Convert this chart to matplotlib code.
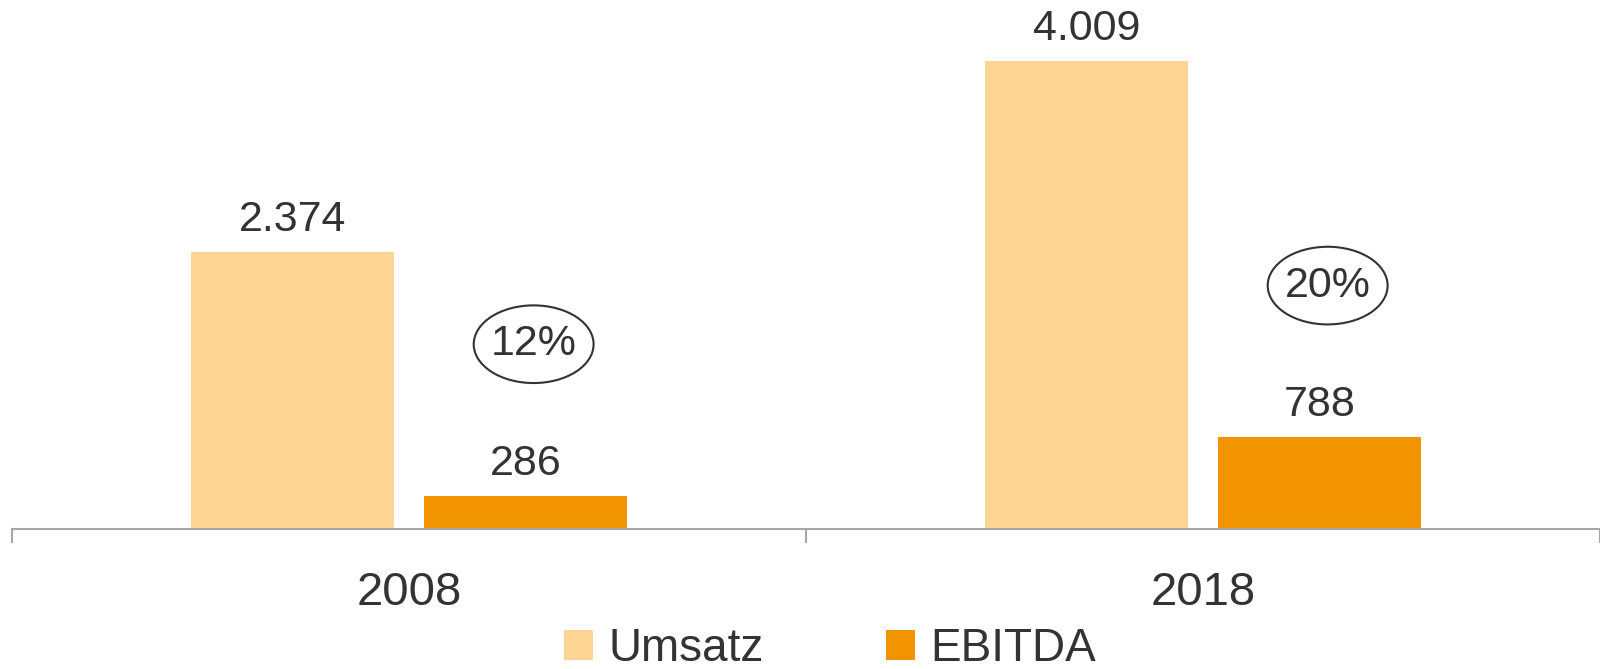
import matplotlib
matplotlib.use('Agg')
import matplotlib.pyplot as plt
import numpy as np
from matplotlib.patches import Ellipse
from matplotlib.transforms import offset_copy

# Data
years = ['2008', '2018']
series_labels = ['Umsatz', 'EBITDA']
umsatz = [2374, 4009]
ebitda = [286, 788]
colors = ['#FDD595', '#F29400']
text_color = '#333333'
axis_color = '#A6A6A6'

plt.rcParams['font.family'] = ['Liberation Sans', 'DejaVu Sans']

fig = plt.figure(figsize=(16, 6.69), dpi=100)
ax = fig.add_axes([12 / 1600, 140 / 669, 1588 / 1600, 529 / 669])

x = np.arange(len(years))
bar_width = 0.255
offset = 0.147

bars_u = ax.bar(x - offset, umsatz, width=bar_width, color=colors[0], label=series_labels[0])
bars_e = ax.bar(x + offset, ebitda, width=bar_width, color=colors[1], label=series_labels[1])


def fmt(v):
    return f'{v:,}'.replace(',', '.')


for bars in (bars_u, bars_e):
    for bar in bars:
        h = bar.get_height()
        ax.annotate(fmt(int(h)), (bar.get_x() + bar.get_width() / 2, h),
                    xytext=(0, 23), textcoords='offset points',
                    ha='center', va='center', fontsize=31, color=text_color)

# margin ellipses above the EBITDA bars
for bar, u in zip(bars_e, umsatz):
    h = bar.get_height()
    cx = bar.get_x() + bar.get_width() / 2 + 0.01
    pct = round(h / u * 100)
    tr = offset_copy(ax.transData, fig=fig, x=0, y=109, units='points')
    ax.add_patch(Ellipse((cx, h), width=0.151, height=665, transform=tr,
                         facecolor='none', edgecolor=text_color, lw=1.5, clip_on=False))
    ax.annotate(f'{pct}%', (cx, h), xytext=(0, 109), textcoords='offset points',
                ha='center', va='center', fontsize=31, color=text_color)

ax.set_xlim(-0.5, 1.5)
ax.set_ylim(0, 4530)

for s in ['left', 'top', 'right']:
    ax.spines[s].set_visible(False)
ax.spines['bottom'].set_color(axis_color)
ax.spines['bottom'].set_linewidth(1.5)
ax.set_yticks([])

ax.set_xticks([-0.5, 0.5, 1.5])
ax.set_xticklabels([])
ax.tick_params(axis='x', which='major', length=10, width=1.5, color=axis_color)
ax.set_xticks(x, minor=True)
ax.set_xticklabels(years, minor=True, fontsize=34, color=text_color)
ax.tick_params(axis='x', which='minor', length=0, pad=30)

fig.legend(handles=[bars_u, bars_e], labels=series_labels, loc='center',
           bbox_to_anchor=(830 / 1600, 1 - 649 / 669), ncol=2, frameon=False,
           fontsize=33, handlelength=0.63, handleheight=0.63, handletextpad=0.35,
           columnspacing=2.66, borderpad=0, labelcolor=text_color)

fig.savefig('out.png', dpi=100)
